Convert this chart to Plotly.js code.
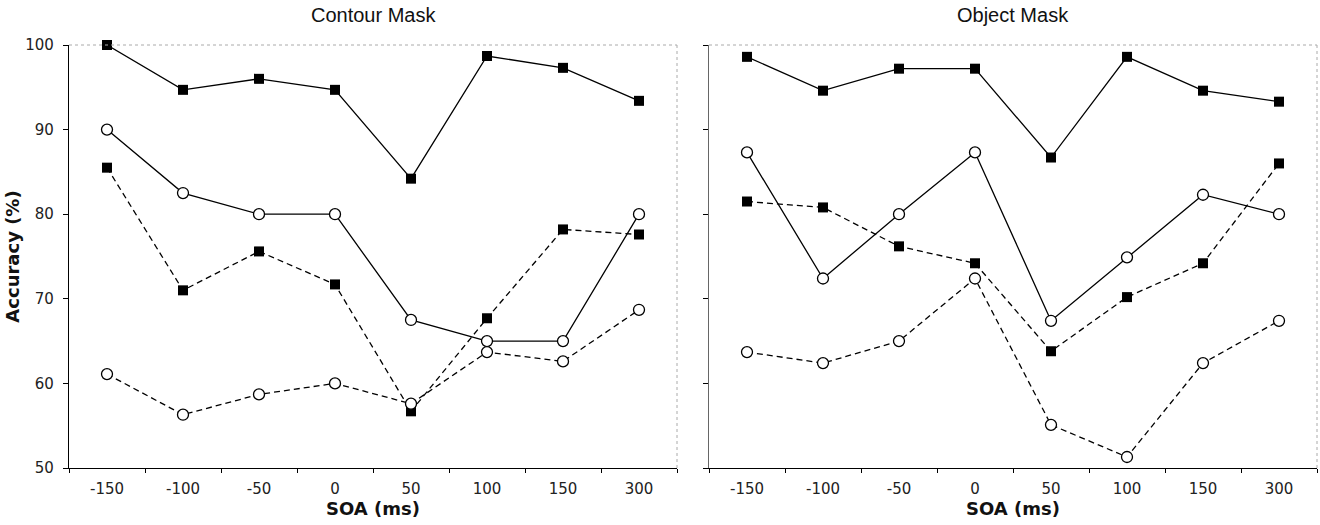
<!DOCTYPE html>
<html><head><meta charset="utf-8">
<script src="https://cdn.plot.ly/plotly-3.0.1.min.js"></script>
<style>html,body{margin:0;padding:0;background:#fff}</style>
</head><body>
<div id="chart" style="width:1320px;height:525px"></div>
<script>
const soa = ["-150","-100","-50","0","50","100","150","300"];
// Contour Mask
const contourSolidSquare = [100, 94.7, 96.0, 94.7, 84.2, 98.7, 97.3, 93.4];
const contourSolidCircle = [90.0, 82.5, 80.0, 80.0, 67.5, 65.0, 65.0, 80.0];
const contourDashSquare  = [85.5, 71.0, 75.6, 71.7, 56.7, 67.7, 78.2, 77.6];
const contourDashCircle  = [61.1, 56.3, 58.7, 60.0, 57.6, 63.7, 62.6, 68.7];
// Object Mask
const objectSolidSquare = [98.6, 94.6, 97.2, 97.2, 86.7, 98.6, 94.6, 93.3];
const objectSolidCircle = [87.3, 72.4, 80.0, 87.3, 67.4, 74.9, 82.3, 80.0];
const objectDashSquare  = [81.5, 80.8, 76.2, 74.2, 63.8, 70.2, 74.2, 86.0];
const objectDashCircle  = [63.7, 62.4, 65.0, 72.4, 55.1, 51.3, 62.4, 67.4];

function tr(y, xa, ya, dash, sym){
  return {x: soa, y: y, xaxis: xa, yaxis: ya, type: 'scatter', mode: 'lines+markers',
    line: {color: '#000', width: 1.3, dash: dash ? '6px,4px' : 'solid'},
    marker: sym === 'square'
      ? {symbol: 'square', size: 10, color: '#000', line: {color: '#000', width: 0}}
      : {symbol: 'circle', size: 11, color: '#fff', line: {color: '#000', width: 1.3}},
    showlegend: false, hoverinfo: 'skip', cliponaxis: false};
}
const data = [
  tr(contourSolidSquare,'x','y',false,'square'),
  tr(contourSolidCircle,'x','y',false,'circle'),
  tr(contourDashSquare,'x','y',true,'square'),
  tr(contourDashCircle,'x','y',true,'circle'),
  tr(objectSolidSquare,'x2','y2',false,'square'),
  tr(objectSolidCircle,'x2','y2',false,'circle'),
  tr(objectDashSquare,'x2','y2',true,'square'),
  tr(objectDashCircle,'x2','y2',true,'circle')
];
const fontFam = 'DejaVu Sans, Verdana, sans-serif';
const titleFam = 'Liberation Sans, Arial, sans-serif';
function xax(domain, anchor){
  return {domain: domain, anchor: anchor, type: 'category', range: [-0.5, 7.5],
    tickson: 'boundaries', ticks: 'outside', ticklen: 4, tickcolor: '#000',
    showline: true, linecolor: '#000', linewidth: 1.2, showgrid: false, zeroline: false,
    ticklabelstandoff: 7,
    tickfont: {family: fontFam, size: 15, color: '#222'},
    title: {text: '<b>SOA (ms)</b>', font: {family: fontFam, size: 18, color: '#111'}, standoff: 0},
    fixedrange: true};
}
function yax(anchor, labels){
  return {anchor: anchor, domain: [0, 1], range: [50, 100], dtick: 10, ticks: 'outside', ticklen: 5,
    tickcolor: '#000', showline: true, linecolor: '#000', linewidth: 1.2, showgrid: false,
    zeroline: false, showticklabels: labels, ticklabelstandoff: 6,
    tickfont: {family: fontFam, size: 15, color: '#222'}, fixedrange: true};
}
const layout = {
  width: 1320, height: 525,
  margin: {l: 0, r: 0, t: 45, b: 57},
  paper_bgcolor: '#fff', plot_bgcolor: '#fff',
  xaxis: xax([69/1320, 677/1320], 'y'),
  yaxis: Object.assign(yax('x', true), {title: {text: '<b>Accuracy (%)</b>', font: {family: fontFam, size: 18, color: '#111'}, standoff: 0}}),
  xaxis2: xax([709/1320, 1317/1320], 'y2'),
  yaxis2: Object.assign(yax('x2', false), {linecolor: '#666'}),
  shapes: [
    {type: 'line', xref: 'x domain', yref: 'y domain', x0: 0, x1: 1, y0: 1, y1: 1, line: {color: '#aaa', width: 1, dash: 'dot'}},
    {type: 'line', xref: 'x domain', yref: 'y domain', x0: 1, x1: 1, y0: 0, y1: 1, line: {color: '#aaa', width: 1, dash: 'dot'}},
    {type: 'line', xref: 'x2 domain', yref: 'y2 domain', x0: 0, x1: 1, y0: 1, y1: 1, line: {color: '#aaa', width: 1, dash: 'dot'}},
    {type: 'line', xref: 'x2 domain', yref: 'y2 domain', x0: 1, x1: 1, y0: 0, y1: 1, line: {color: '#aaa', width: 1, dash: 'dot'}}
  ],
  annotations: [
    {text: 'Contour Mask', xref: 'x domain', yref: 'paper', x: 0.5, y: 1, yanchor: 'bottom', showarrow: false,
     xanchor: 'center', font: {family: titleFam, size: 20, color: '#111'}, yshift: 17},
    {text: 'Object Mask', xref: 'x2 domain', yref: 'paper', x: 0.5, y: 1, yanchor: 'bottom', showarrow: false,
     xanchor: 'center', font: {family: titleFam, size: 20, color: '#111'}, yshift: 17}
  ]
};
Plotly.newPlot('chart', data, layout, {displayModeBar: false, staticPlot: true});
</script>
</body></html>
